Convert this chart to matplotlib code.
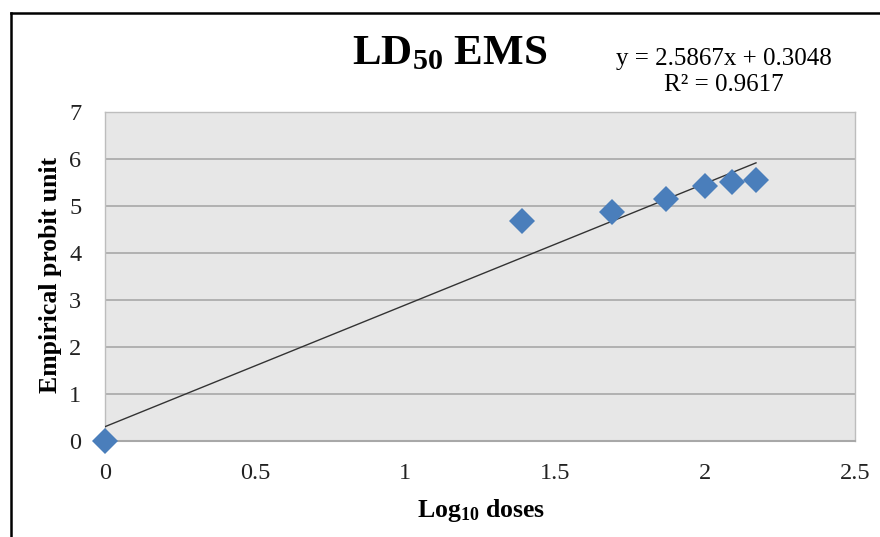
import matplotlib
matplotlib.use("Agg")
import matplotlib.pyplot as plt
from matplotlib.lines import Line2D
import numpy as np

plt.rcParams['font.family'] = ['Liberation Serif', 'DejaVu Serif']
plt.rcParams['mathtext.fontset'] = 'custom'
plt.rcParams['mathtext.rm'] = 'Liberation Serif'
plt.rcParams['mathtext.bf'] = 'Liberation Serif:bold'
plt.rcParams['mathtext.it'] = 'Liberation Serif:italic'

# Data
log_doses = [0.0, 1.39, 1.69, 1.87, 2.00, 2.09, 2.17]
probit = [0.0, 4.68, 4.87, 5.15, 5.43, 5.51, 5.55]
slope = 2.5867
intercept = 0.3048
r2 = 0.9617
x_ticks = [0, 0.5, 1, 1.5, 2, 2.5]
x_tick_labels = ["0", "0.5", "1", "1.5", "2", "2.5"]
y_ticks = [0, 1, 2, 3, 4, 5, 6, 7]

W, H = 880, 537
fig = plt.figure(figsize=(W / 100, H / 100), dpi=100)
fig.patch.set_facecolor('white')

ax = fig.add_axes([105 / W, 1 - 441 / H, 750 / W, 329 / H])
ax.set_facecolor('#E7E7E7')
ax.set_xlim(0, 2.5)
ax.set_ylim(0, 7)
ax.set_xticks(x_ticks)
ax.set_xticklabels(x_tick_labels)
ax.set_yticks(y_ticks)
ax.tick_params(axis='both', length=0, labelsize=17.5, colors='#222222')
ax.tick_params(axis='y', pad=17)
ax.tick_params(axis='x', pad=16)
ax.grid(axis='y', color='#A8A8A8', linewidth=1.2)
ax.set_axisbelow(True)
for side in ['top', 'right', 'left']:
    ax.spines[side].set_color('#BDBDBD')
    ax.spines[side].set_linewidth(1)
ax.spines['bottom'].set_color('#A8A8A8')
ax.spines['bottom'].set_linewidth(1.5)

# Trendline
xs = np.array([min(log_doses), max(log_doses)])
ax.plot(xs, slope * xs + intercept, color='#333333', linewidth=1, zorder=3)

# Points
ax.plot(log_doses, probit, linestyle='none', marker='D', markersize=13.5,
        color='#4A7EBB', markeredgewidth=0, zorder=4, clip_on=False)

fig.text(481 / W, 1 - 517 / H, r"Log$_{\mathbf{10}}$ doses", fontsize=18.5,
         fontweight='bold', ha='center', va='baseline')
fig.text(51 / W, 1 - 275 / H, "Empirical probit unit", fontsize=18.5,
         fontweight='bold', ha='center', va='center', rotation=90)

fig.text(450 / W, 1 - 54 / H, r"LD$_{\mathbf{50}}$ EMS", fontsize=31, fontweight='bold',
         ha='center', va='center')
fig.text(724 / W, 1 - 72 / H,
         f"y = {slope}x + {intercept}\nR² = {r2}", fontsize=18,
         ha='center', va='center', linespacing=1.25)

# Figure border (left and top)
fig.add_artist(Line2D([10.5 / W, 10.5 / W], [0, 1 - 13 / H], color='black', linewidth=1.8))
fig.add_artist(Line2D([10.5 / W, 1], [1 - 13 / H, 1 - 13 / H], color='black', linewidth=1.8))

fig.savefig("out.png", dpi=100)
